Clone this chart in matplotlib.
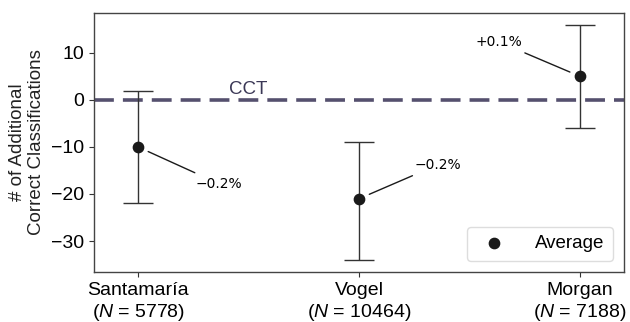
import matplotlib
matplotlib.use("Agg")
import matplotlib.pyplot as plt
import numpy as np

categories = ["Santamaría", "Vogel", "Morgan"]
sizes = [5778, 10464, 7188]
means = [-10, -21, 5]
lower = [-22, -34, -6]
upper = [2, -9, 16]
pct_labels = ["\u22120.2%", "\u22120.2%", "+0.1%"]

plt.rcParams['font.family'] = ['Liberation Sans', 'DejaVu Sans']
plt.rcParams['mathtext.fontset'] = 'custom'
plt.rcParams['mathtext.rm'] = 'Liberation Sans'
plt.rcParams['mathtext.it'] = 'Liberation Sans:italic'

fig = plt.figure(figsize=(6.3, 3.22), dpi=100)
ax = fig.add_axes([0.149, 0.155, 0.842, 0.805])

x = np.arange(len(categories))
means_a = np.array(means)
yerr = np.array([means_a - np.array(lower), np.array(upper) - means_a])

ax.axhline(0, color='#55506e', lw=2.6, ls=(0, (5.5, 2.5)), zorder=1)
ax.text(0.5, 0.5, "CCT", color='#3b3856', fontsize=13.5, ha='center', va='bottom')

ax.errorbar(x, means, yerr=yerr, fmt='none', ecolor='#333333', elinewidth=1.0,
            capsize=11, capthick=1.0, zorder=2)
ax.scatter(x, means, s=55, color='#1a1a1a', zorder=3, label='Average')

ann = [
    (0, (0.26, -17.8), 'left'),
    (1, (1.25, -13.8), 'left'),
    (2, (1.74, 12.3), 'right'),
]
for i, (tx, ty), ha in ann:
    ax.annotate(pct_labels[i], xy=(x[i], means[i]), xytext=(tx, ty),
                fontsize=10, family='DejaVu Sans', ha=ha, va='center',
                arrowprops=dict(arrowstyle='-', color='#1a1a1a', lw=1.0,
                                shrinkA=2, shrinkB=8))

ax.set_xlim(-0.2, 2.2)
ax.set_ylim(-36.6, 18.5)
ax.set_yticks([-30, -20, -10, 0, 10])
ax.set_xticks(x)
ax.set_xticklabels([f"{c}\n($N$ = {n})" for c, n in zip(categories, sizes)])
ax.tick_params(labelsize=14, color='#333333')
ax.set_ylabel("# of Additional\nCorrect Classifications", fontsize=13.5, color='#222222', labelpad=4)
for s in ax.spines.values():
    s.set_color('#444444')
    s.set_linewidth(1.0)

ax.legend(loc='lower right', fontsize=13.5, handletextpad=1.2, borderpad=0.45, framealpha=1,
          edgecolor='#dddddd', fancybox=True, borderaxespad=0.6)

fig.savefig("out.png", dpi=100)
